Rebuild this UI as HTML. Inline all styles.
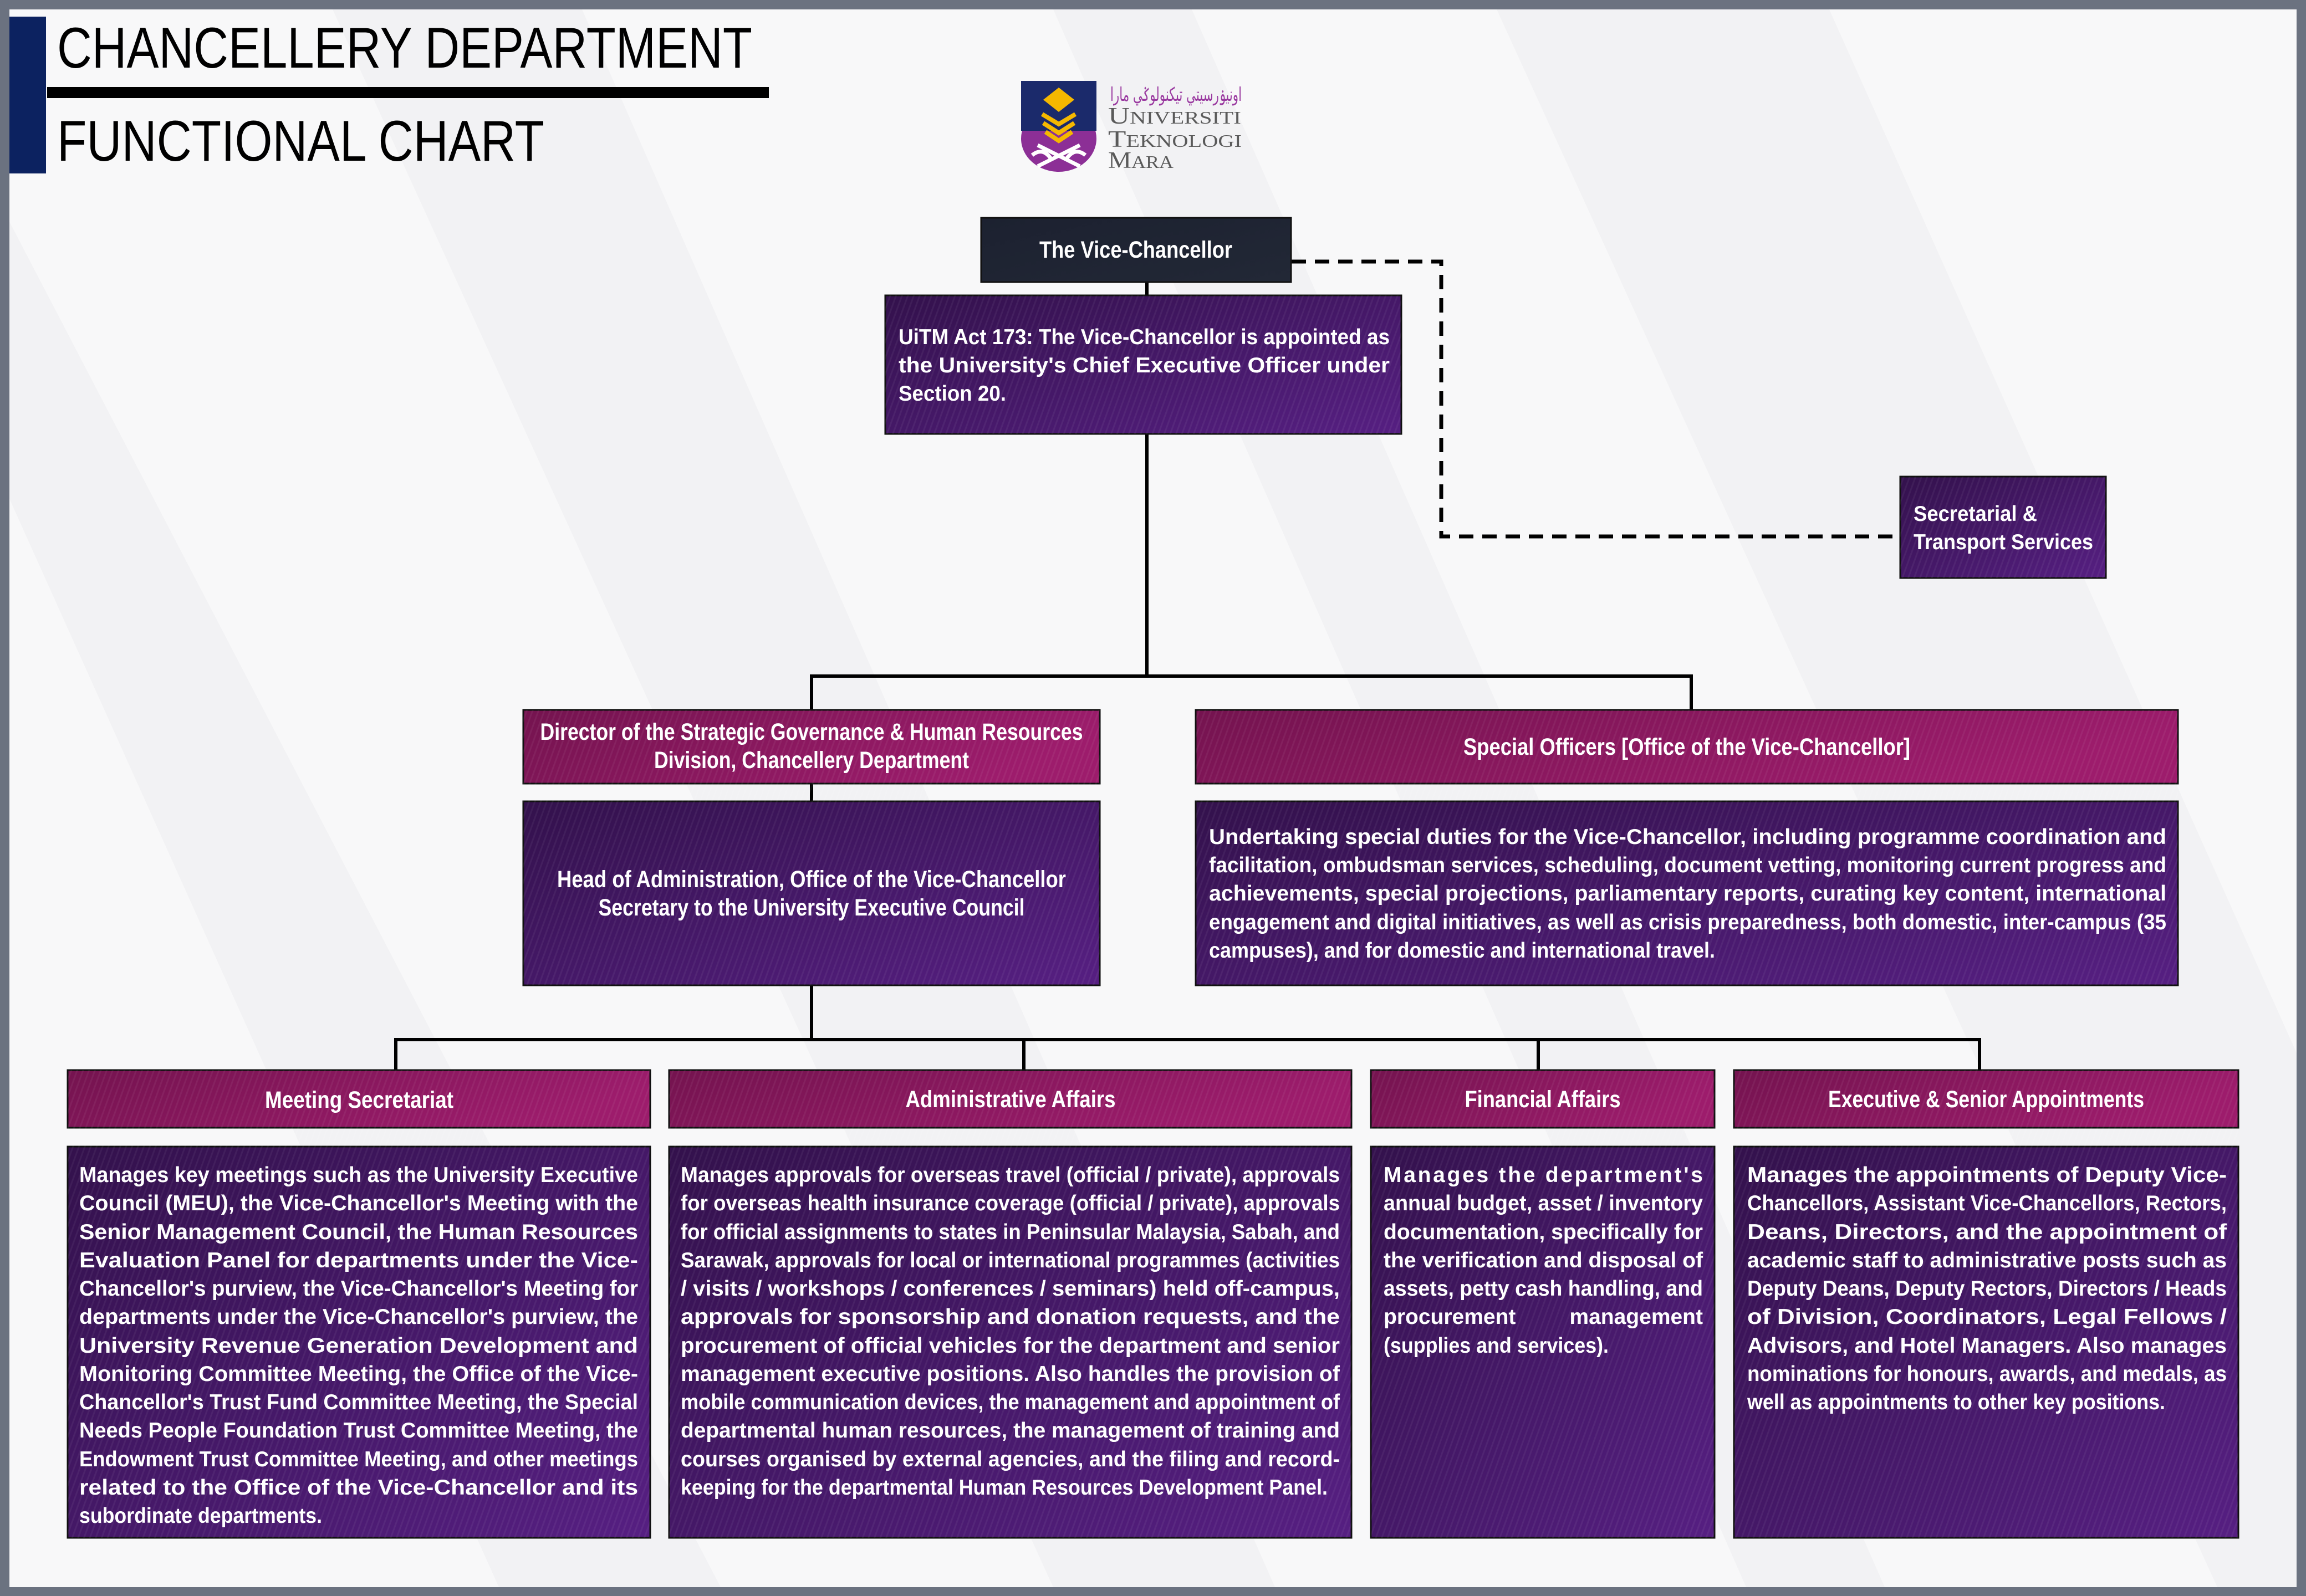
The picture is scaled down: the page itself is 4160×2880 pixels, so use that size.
<!DOCTYPE html>
<html><head><meta charset="utf-8"><style>
html,body{margin:0;padding:0;background:#6b7280;}
svg{display:block}
.t{font-family:"Liberation Sans Narrow","Liberation Sans",sans-serif;font-weight:bold;fill:#fff;}
.b{font-size:39px}
.h{font-size:43px}
</style></head><body>
<svg width="4160" height="2880" viewBox="0 0 4160 2880" xmlns="http://www.w3.org/2000/svg">
<defs>
<linearGradient id="mag" x1="0" y1="0" x2="1" y2="0.3"><stop offset="0" stop-color="#74134f"/><stop offset="1" stop-color="#9d1c6c"/></linearGradient>
<linearGradient id="pur" x1="0" y1="0" x2="1" y2="1"><stop offset="0" stop-color="#33114c"/><stop offset="1" stop-color="#561f82"/></linearGradient>
<linearGradient id="vc" x1="0" y1="0" x2="1" y2="1"><stop offset="0" stop-color="#1c2130"/><stop offset="1" stop-color="#222836"/></linearGradient>
<pattern id="str" width="10" height="10" patternUnits="userSpaceOnUse" patternTransform="rotate(20)"><rect width="3" height="10" fill="#fff" opacity="0.05"/></pattern>
</defs>
<rect x="0" y="0" width="4160" height="2880" fill="#6b7280"/>
<rect x="17" y="17" width="4126" height="2847" fill="#f8f8f9"/>
<g fill="#f2f2f4">
<polygon points="17,400 17,900 900,2864 1300,2864"/>
<polygon points="600,17 1050,17 2300,2864 1900,2864"/>
<polygon points="1900,17 2150,17 3400,2864 3150,2864"/>
<polygon points="2700,17 3300,17 4143,1900 4143,2864 4000,2864"/>
</g>
<rect x="17" y="30" width="66" height="283" fill="#0c2260"/>
<text x="103" y="122" font-family="Liberation Sans Narrow,Liberation Sans,sans-serif" font-size="104" fill="#000" textLength="1254" lengthAdjust="spacingAndGlyphs">CHANCELLERY DEPARTMENT</text>
<rect x="85" y="157" width="1302" height="20" fill="#000"/>
<text x="103" y="290" font-family="Liberation Sans Narrow,Liberation Sans,sans-serif" font-size="104" fill="#000" textLength="879" lengthAdjust="spacingAndGlyphs">FUNCTIONAL CHART</text>
<ellipse cx="1910" cy="250" rx="68" ry="60" fill="#8c2f96"/>
<rect x="1842" y="146" width="136" height="90" fill="#1b2a6b"/>
<polygon points="1910,158 1938,180 1910,202 1882,180" fill="#f5b800"/>
<polyline points="1880,206 1910,224 1940,206" fill="none" stroke="#f5b800" stroke-width="8"/>
<polyline points="1882,222 1910,240 1938,222" fill="none" stroke="#f5b800" stroke-width="8"/>
<polyline points="1886,238 1910,254 1934,238" fill="none" stroke="#f5b800" stroke-width="8"/>
<path d="M1872,262 L1948,300 M1948,262 L1872,300 M1862,280 Q1880,265 1895,285 M1958,280 Q1940,265 1925,285" stroke="#fff" stroke-width="7" fill="none"/>
<text x="2003" y="182" font-family="DejaVu Sans,sans-serif" font-size="34" fill="#9a3aa0" textLength="237" lengthAdjust="spacingAndGlyphs">اونيۏرسيتي تيكنولوݢي مارا</text>
<g font-family="Liberation Serif,serif" fill="#5a5a5a">
<text x="1999" y="223" font-size="42" textLength="240" lengthAdjust="spacingAndGlyphs">U<tspan font-size="32">NIVERSITI</tspan></text>
<text x="1999" y="265" font-size="42" textLength="241" lengthAdjust="spacingAndGlyphs">T<tspan font-size="32">EKNOLOGI</tspan></text>
<text x="1999" y="303" font-size="42" textLength="118" lengthAdjust="spacingAndGlyphs">M<tspan font-size="32">ARA</tspan></text>
</g>
<g stroke="#000" stroke-width="6" fill="none">
<line x1="2069" y1="509" x2="2069" y2="533"/>
<line x1="2069" y1="783" x2="2069" y2="1223"/>
<polyline points="1464,1281 1464,1220 3051,1220 3051,1281"/>
<line x1="1464" y1="1414" x2="1464" y2="1446"/>
<line x1="1464" y1="1778" x2="1464" y2="1876"/>
<polyline points="714,1931 714,1876 3571,1876 3571,1931"/>
<line x1="1847" y1="1876" x2="1847" y2="1931"/>
<line x1="2775" y1="1876" x2="2775" y2="1931"/>
<polyline points="2330,472 2600,472 2600,968 3428,968" stroke-width="7" stroke-dasharray="26 16"/>
</g>
<g stroke="#111" stroke-width="3">
<rect x="1770" y="393" width="559" height="116" fill="url(#vc)"/>
<rect x="1597" y="533" width="931" height="250" fill="url(#pur)"/>
<rect x="3428" y="860" width="371" height="183" fill="url(#pur)"/>
<rect x="944" y="1281" width="1040" height="133" fill="url(#mag)"/>
<rect x="944" y="1446" width="1040" height="332" fill="url(#pur)"/>
<rect x="2157" y="1281" width="1772" height="133" fill="url(#mag)"/>
<rect x="2157" y="1446" width="1772" height="332" fill="url(#pur)"/>
<rect x="122" y="1931" width="1051" height="104" fill="url(#mag)"/>
<rect x="1207" y="1931" width="1231" height="104" fill="url(#mag)"/>
<rect x="2473" y="1931" width="620" height="104" fill="url(#mag)"/>
<rect x="3128" y="1931" width="910" height="104" fill="url(#mag)"/>
<rect x="122" y="2069" width="1051" height="706" fill="url(#pur)"/>
<rect x="1207" y="2069" width="1231" height="706" fill="url(#pur)"/>
<rect x="2473" y="2069" width="620" height="706" fill="url(#pur)"/>
<rect x="3128" y="2069" width="910" height="706" fill="url(#pur)"/>
</g>
<g fill="url(#str)">
<rect x="1597" y="533" width="931" height="250"/><rect x="3428" y="860" width="371" height="183"/>
<rect x="944" y="1281" width="1040" height="497"/><rect x="2157" y="1281" width="1772" height="497"/>
<rect x="122" y="1931" width="1051" height="844"/><rect x="1207" y="1931" width="1231" height="844"/>
<rect x="2473" y="1931" width="620" height="844"/><rect x="3128" y="1931" width="910" height="844"/>
</g>
<g class="t h" text-anchor="middle">
<text x="2049" y="465" textLength="348" lengthAdjust="spacingAndGlyphs">The Vice-Chancellor</text>
<text x="1464" y="1335" textLength="979" lengthAdjust="spacingAndGlyphs">Director of the Strategic Governance &amp; Human Resources</text>
<text x="1464" y="1386" textLength="568" lengthAdjust="spacingAndGlyphs">Division, Chancellery Department</text>
<text x="1464" y="1601" textLength="918" lengthAdjust="spacingAndGlyphs">Head of Administration, Office of the Vice-Chancellor</text>
<text x="1464" y="1652" textLength="769" lengthAdjust="spacingAndGlyphs">Secretary to the University Executive Council</text>
<text x="3043" y="1362" textLength="806" lengthAdjust="spacingAndGlyphs">Special Officers [Office of the Vice-Chancellor]</text>
<text x="648" y="1999" textLength="340" lengthAdjust="spacingAndGlyphs">Meeting Secretariat</text>
<text x="1823" y="1998" textLength="379" lengthAdjust="spacingAndGlyphs">Administrative Affairs</text>
<text x="2783" y="1998" textLength="281" lengthAdjust="spacingAndGlyphs">Financial Affairs</text>
<text x="3583" y="1998" textLength="570" lengthAdjust="spacingAndGlyphs">Executive &amp; Senior Appointments</text>
</g>
<g class="t b">
<text x="3452" y="940" textLength="223" lengthAdjust="spacingAndGlyphs">Secretarial &amp;</text>
<text x="3452" y="991" textLength="324" lengthAdjust="spacingAndGlyphs">Transport Services</text>
<text x="1621" y="621" textLength="886" lengthAdjust="spacingAndGlyphs">UiTM Act 173: The Vice-Chancellor is appointed as</text>
<text x="1621" y="672" textLength="886" lengthAdjust="spacingAndGlyphs">the University's Chief Executive Officer under</text>
<text x="1621" y="723" textLength="194" lengthAdjust="spacingAndGlyphs">Section 20.</text>
<text x="2181" y="1523" textLength="1727" lengthAdjust="spacingAndGlyphs">Undertaking special duties for the Vice-Chancellor, including programme coordination and</text>
<text x="2181" y="1574" textLength="1727" lengthAdjust="spacingAndGlyphs">facilitation, ombudsman services, scheduling, document vetting, monitoring current progress and</text>
<text x="2181" y="1625" textLength="1727" lengthAdjust="spacingAndGlyphs">achievements, special projections, parliamentary reports, curating key content, international</text>
<text x="2181" y="1677" textLength="1727" lengthAdjust="spacingAndGlyphs">engagement and digital initiatives, as well as crisis preparedness, both domestic, inter-campus (35</text>
<text x="2181" y="1728" textLength="913" lengthAdjust="spacingAndGlyphs">campuses), and for domestic and international travel.</text>
<text x="143" y="2133" textLength="1008" lengthAdjust="spacingAndGlyphs">Manages key meetings such as the University Executive</text>
<text x="143" y="2184" textLength="1008" lengthAdjust="spacingAndGlyphs">Council (MEU), the Vice-Chancellor's Meeting with the</text>
<text x="143" y="2236" textLength="1008" lengthAdjust="spacingAndGlyphs">Senior Management Council, the Human Resources</text>
<text x="143" y="2287" textLength="1008" lengthAdjust="spacingAndGlyphs">Evaluation Panel for departments under the Vice-</text>
<text x="143" y="2338" textLength="1008" lengthAdjust="spacingAndGlyphs">Chancellor's purview, the Vice-Chancellor's Meeting for</text>
<text x="143" y="2389" textLength="1008" lengthAdjust="spacingAndGlyphs">departments under the Vice-Chancellor's purview, the</text>
<text x="143" y="2441" textLength="1008" lengthAdjust="spacingAndGlyphs">University Revenue Generation Development and</text>
<text x="143" y="2492" textLength="1008" lengthAdjust="spacingAndGlyphs">Monitoring Committee Meeting, the Office of the Vice-</text>
<text x="143" y="2543" textLength="1008" lengthAdjust="spacingAndGlyphs">Chancellor's Trust Fund Committee Meeting, the Special</text>
<text x="143" y="2594" textLength="1008" lengthAdjust="spacingAndGlyphs">Needs People Foundation Trust Committee Meeting, the</text>
<text x="143" y="2646" textLength="1008" lengthAdjust="spacingAndGlyphs">Endowment Trust Committee Meeting, and other meetings</text>
<text x="143" y="2697" textLength="1008" lengthAdjust="spacingAndGlyphs">related to the Office of the Vice-Chancellor and its</text>
<text x="143" y="2748" textLength="438" lengthAdjust="spacingAndGlyphs">subordinate departments.</text>
<text x="1228" y="2133" textLength="1189" lengthAdjust="spacingAndGlyphs">Manages approvals for overseas travel (official / private), approvals</text>
<text x="1228" y="2184" textLength="1189" lengthAdjust="spacingAndGlyphs">for overseas health insurance coverage (official / private), approvals</text>
<text x="1228" y="2236" textLength="1189" lengthAdjust="spacingAndGlyphs">for official assignments to states in Peninsular Malaysia, Sabah, and</text>
<text x="1228" y="2287" textLength="1189" lengthAdjust="spacingAndGlyphs">Sarawak, approvals for local or international programmes (activities</text>
<text x="1228" y="2338" textLength="1189" lengthAdjust="spacingAndGlyphs">/ visits / workshops / conferences / seminars) held off-campus,</text>
<text x="1228" y="2389" textLength="1189" lengthAdjust="spacingAndGlyphs">approvals for sponsorship and donation requests, and the</text>
<text x="1228" y="2441" textLength="1189" lengthAdjust="spacingAndGlyphs">procurement of official vehicles for the department and senior</text>
<text x="1228" y="2492" textLength="1189" lengthAdjust="spacingAndGlyphs">management executive positions. Also handles the provision of</text>
<text x="1228" y="2543" textLength="1189" lengthAdjust="spacingAndGlyphs">mobile communication devices, the management and appointment of</text>
<text x="1228" y="2594" textLength="1189" lengthAdjust="spacingAndGlyphs">departmental human resources, the management of training and</text>
<text x="1228" y="2646" textLength="1189" lengthAdjust="spacingAndGlyphs">courses organised by external agencies, and the filing and record-</text>
<text x="1228" y="2697" textLength="1167" lengthAdjust="spacingAndGlyphs">keeping for the departmental Human Resources Development Panel.</text>
<text x="2496" y="2133" textLength="576" lengthAdjust="spacing">Manages the department's</text>
<text x="2496" y="2184" textLength="576" lengthAdjust="spacingAndGlyphs">annual budget, asset / inventory</text>
<text x="2496" y="2236" textLength="576" lengthAdjust="spacingAndGlyphs">documentation, specifically for</text>
<text x="2496" y="2287" textLength="576" lengthAdjust="spacingAndGlyphs">the verification and disposal of</text>
<text x="2496" y="2338" textLength="576" lengthAdjust="spacingAndGlyphs">assets, petty cash handling, and</text>
<text x="2496" y="2389">procurement</text>
<text x="3072" y="2389" text-anchor="end">management</text>
<text x="2496" y="2441" textLength="406" lengthAdjust="spacingAndGlyphs">(supplies and services).</text>
<text x="3152" y="2133" textLength="865" lengthAdjust="spacingAndGlyphs">Manages the appointments of Deputy Vice-</text>
<text x="3152" y="2184" textLength="865" lengthAdjust="spacingAndGlyphs">Chancellors, Assistant Vice-Chancellors, Rectors,</text>
<text x="3152" y="2236" textLength="865" lengthAdjust="spacingAndGlyphs">Deans, Directors, and the appointment of</text>
<text x="3152" y="2287" textLength="865" lengthAdjust="spacingAndGlyphs">academic staff to administrative posts such as</text>
<text x="3152" y="2338" textLength="865" lengthAdjust="spacingAndGlyphs">Deputy Deans, Deputy Rectors, Directors / Heads</text>
<text x="3152" y="2389" textLength="865" lengthAdjust="spacingAndGlyphs">of Division, Coordinators, Legal Fellows /</text>
<text x="3152" y="2441" textLength="865" lengthAdjust="spacingAndGlyphs">Advisors, and Hotel Managers. Also manages</text>
<text x="3152" y="2492" textLength="865" lengthAdjust="spacingAndGlyphs">nominations for honours, awards, and medals, as</text>
<text x="3152" y="2543" textLength="754" lengthAdjust="spacingAndGlyphs">well as appointments to other key positions.</text>
</g>
</svg>
</body></html>
